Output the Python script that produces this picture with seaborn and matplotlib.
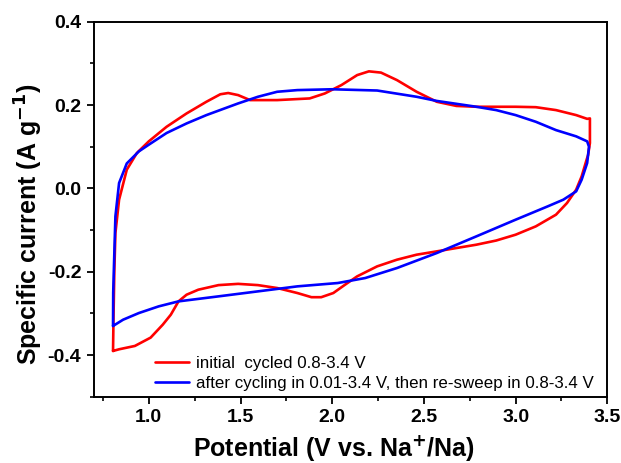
import numpy as np
import pandas as pd
import matplotlib
matplotlib.use("Agg")
import matplotlib.pyplot as plt
from matplotlib.ticker import MultipleLocator
import seaborn as sns

# Cyclic voltammograms: anodic branch then cathodic branch (closed loop)
initial_potential = [
    0.805, 0.808, 0.812, 0.818, 0.838, 0.88, 0.935, 1.0, 1.097, 1.206, 1.314, 1.39, 1.433,
    1.487, 1.552, 1.70, 1.877, 1.96, 2.05, 2.136, 2.20, 2.266, 2.353, 2.46, 2.57,
    2.677, 2.786, 3.0, 3.11, 3.22, 3.33, 3.39, 3.405, 3.405, 3.405, 3.395, 3.387, 3.36,
    3.33, 3.28, 3.22, 3.11, 3.0, 2.894, 2.786, 2.677, 2.57, 2.46, 2.353, 2.245,
    2.136, 2.07, 2.006, 1.94, 1.887, 1.81, 1.70, 1.595, 1.487, 1.38, 1.27, 1.206,
    1.162, 1.12, 1.076, 1.01, 0.924, 0.838, 0.805, 0.805,
]
initial_current = [
    -0.39, -0.30, -0.20, -0.107, -0.027, 0.045, 0.085, 0.113, 0.148, 0.18, 0.208, 0.226, 0.229,
    0.224, 0.212, 0.212, 0.216, 0.228, 0.248, 0.272, 0.281, 0.278, 0.26, 0.232, 0.208,
    0.198, 0.196, 0.196, 0.195, 0.188, 0.176, 0.167, 0.168, 0.14, 0.109, 0.08, 0.069, 0.029,
    -0.003, -0.035, -0.063, -0.091, -0.111, -0.125, -0.135, -0.143, -0.151, -0.159, -0.171, -0.187,
    -0.211, -0.231, -0.251, -0.261, -0.261, -0.251, -0.239, -0.232, -0.229, -0.232, -0.243, -0.255,
    -0.271, -0.303, -0.327, -0.358, -0.378, -0.386, -0.39, -0.39,
]

resweep_potential = [
    0.805, 0.806, 0.81, 0.818, 0.838, 0.88, 0.946, 1.0, 1.097, 1.206, 1.314, 1.487, 1.595,
    1.70, 1.81, 2.0, 2.245, 2.46, 2.57, 2.786, 2.894, 3.0, 3.11, 3.22, 3.33, 3.39,
    3.40, 3.39, 3.36, 3.33, 3.26, 3.175, 3.0, 2.786, 2.57, 2.353, 2.18, 2.03, 1.81,
    1.595, 1.38, 1.162, 1.054, 0.946, 0.86, 0.805,
]
resweep_current = [
    -0.33, -0.25, -0.187, -0.067, 0.013, 0.06, 0.089, 0.105, 0.133, 0.156, 0.176, 0.204, 0.22,
    0.232, 0.236, 0.238, 0.235, 0.22, 0.21, 0.196, 0.188, 0.176, 0.16, 0.14, 0.125, 0.113,
    0.1, 0.061, 0.021, -0.007, -0.027, -0.043, -0.075, -0.115, -0.155, -0.191, -0.215, -0.227, -0.235,
    -0.247, -0.259, -0.271, -0.283, -0.299, -0.315, -0.33,
]

labels = ["initial  cycled 0.8-3.4 V",
          "after cycling in 0.01-3.4 V, then re-sweep in 0.8-3.4 V"]

df = pd.concat([
    pd.DataFrame({"potential": initial_potential, "current": initial_current,
                  "curve": labels[0], "order": np.arange(len(initial_potential))}),
    pd.DataFrame({"potential": resweep_potential, "current": resweep_current,
                  "curve": labels[1], "order": np.arange(len(resweep_potential))}),
])

sns.set_theme(style="ticks")
plt.rcParams["font.family"] = ["Liberation Sans", "DejaVu Sans"]
plt.rcParams["text.color"] = "black"
plt.rcParams["axes.labelcolor"] = "black"

fig = plt.figure(figsize=(6.21, 4.63), dpi=100)
ax = fig.add_axes([0.151, 0.143, 0.827, 0.810])

sns.lineplot(data=df, x="potential", y="current", hue="curve", units="curve",
             estimator=None, sort=False, palette=["#ff0000", "#0000ff"],
             linewidth=1.9, ax=ax)

ax.set_xlim(0.7, 3.5)
ax.set_ylim(-0.5, 0.4)
ax.xaxis.set_minor_locator(MultipleLocator(0.25))
ax.yaxis.set_minor_locator(MultipleLocator(0.1))
ax.set_xticks([1.0, 1.5, 2.0, 2.5, 3.0, 3.5])
ax.set_yticks([-0.4, -0.2, 0.0, 0.2, 0.4])
ax.set_xticklabels(["1.0", "1.5", "2.0", "2.5", "3.0", "3.5"])
ax.set_yticklabels(["-0.4", "-0.2", "0.0", "0.2", "0.4"])

ax.tick_params(axis="both", which="major", direction="out", length=5, width=1.3,
               labelsize=14, colors="black", pad=4)
ax.tick_params(axis="both", which="minor", direction="out", length=3, width=1.2,
               colors="black")
for lbl in ax.get_xticklabels() + ax.get_yticklabels():
    lbl.set_fontweight("bold")

for side in ["top", "right", "left", "bottom"]:
    ax.spines[side].set_visible(True)
    ax.spines[side].set_linewidth(1.4)
    ax.spines[side].set_color("black")

ax.set_xlabel("Potential (V vs. Na$^{\\mathbf{+}}$/Na)", fontsize=18, fontweight="bold")
ax.set_ylabel("Specific current (A g$^{\\mathbf{-1}}$)", fontsize=18, fontweight="bold")
ax.xaxis.set_label_coords(0.468, -0.097)
ax.yaxis.set_label_coords(-0.095, 0.46)

leg = ax.legend(loc="lower left", bbox_to_anchor=(0.119, 0.015), frameon=False,
                fontsize=12.2, handlelength=2.0, handletextpad=0.45, labelspacing=0.28,
                borderpad=0, borderaxespad=0, title=None)
for line in leg.get_lines():
    line.set_linewidth(1.9)

fig.savefig("out.png", dpi=100)
